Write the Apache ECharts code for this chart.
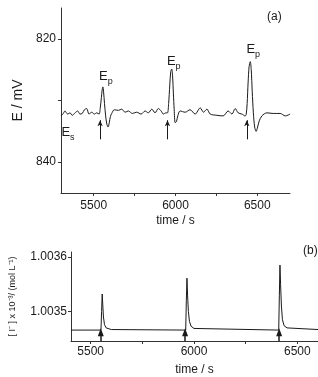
<!DOCTYPE html>
<html>
<head>
<meta charset="utf-8">
<script src="https://cdn.jsdelivr.net/npm/echarts@6/dist/echarts.min.js"></script>
<style>
  html, body { margin: 0; padding: 0; background: #fff; }
  #chart { width: 318px; height: 377px; }
</style>
</head>
<body>
<div id="chart"></div>
<script>
  'use strict'

  // panel (a): potential trace, E / mV
  var topTime = [5300, 5314, 5324, 5341, 5355, 5369, 5386, 5402, 5416, 5430, 5443, 5457, 5471, 5488, 5504, 5518, 5533,
    5540, 5547, 5552, 5556, 5560, 5566, 5573, 5580, 5588, 5595, 5602, 5610, 5626, 5651, 5671, 5692, 5712, 5736,
    5763, 5790, 5814, 5834, 5855, 5875, 5895, 5912, 5926, 5941,
    5951, 5958, 5965, 5971, 5977, 5982, 5987, 5992, 5998, 6006, 6014, 6028, 6059, 6089, 6120, 6151, 6171, 6192,
    6212, 6253, 6291, 6322, 6345, 6365, 6383, 6406, 6426,
    6432, 6438, 6444, 6450, 6457, 6463, 6469, 6476, 6484, 6493, 6502, 6512, 6528, 6559, 6597, 6640, 6671, 6701]
  var topE = [832.5, 832.1, 831.7, 832.2, 832.0, 832.4, 832.0, 831.7, 832.2, 832.1, 831.5, 831.3, 832.2, 831.9, 832.2, 832.0, 832.2,
    831.2, 829.5, 828.2, 827.8, 828.5, 830.5, 832.5, 833.8, 834.3, 833.6, 832.6, 832.1, 831.5, 831.6, 831.4, 831.9, 831.7, 832.1,
    831.9, 832.2, 831.7, 832.0, 831.4, 832.0, 831.3, 831.7, 832.2, 832.0,
    832.0, 830.5, 827.5, 825.3, 824.9, 826.0, 828.8, 831.5, 833.6, 833.4, 832.5, 831.7, 831.9, 831.5, 832.2, 831.2, 831.9, 831.4,
    832.2, 832.4, 832.5, 831.7, 832.2, 831.3, 832.0, 832.2, 832.5,
    832.3, 830.5, 827.0, 824.5, 823.7, 825.0, 828.5, 832.0, 834.3, 835.0, 834.3, 833.3, 832.5, 832.0, 832.1, 832.1, 832.5, 832.2]
  var topPeaks = [[5556, 827.8], [5977, 824.9], [6457, 823.7]]
  var topStart = [5300, 832.5]
  var topArrowTime = [5539, 5951, 6436]
  var topArrowFrom = 836.3
  var topArrowTo = 833.2
  var topXTicks = [5500, 5750, 6000, 6250, 6500]
  var topXLabels = [5500, 6000, 6500]
  var topYTicks = [820, 830, 840]
  var topYLabels = [820, 840]

  // panel (b): iodide concentration
  var botTime = [5405, 5550, 5553, 5556, 5559, 5562, 5567, 5575, 5600, 5960, 5963, 5966, 5969, 5973, 5978, 5986, 6000,
    6410, 6413, 6416, 6419, 6423, 6428, 6436, 6450, 6600]
  var botConc = [1.003466, 1.003466, 1.003500, 1.003532, 1.003510, 1.003490, 1.003476, 1.003470, 1.003467,
    1.003466, 1.003520, 1.003561, 1.003530, 1.003500, 1.003482, 1.003473, 1.003469,
    1.003466, 1.003530, 1.003585, 1.003550, 1.003510, 1.003485, 1.003474, 1.003470, 1.003467]
  var botArrowTime = [5549, 5957, 6412]
  var botArrowFrom = 1.003446
  var botArrowTo = 1.003462
  var botXTicks = [5500, 5750, 6000, 6250, 6500]
  var botXLabels = [5500, 6000, 6500]
  var botYTicks = [1.0035, 1.0036]

  var font = 'Liberation Sans, Arial, sans-serif'
  var ink = '#1a1a1a'

  function axisBase () {
    return {
      type: 'value',
      axisLine: { show: true, lineStyle: { color: '#333', width: 1 } },
      splitLine: { show: false },
      nameTextStyle: { fontFamily: font, fontSize: 12, color: ink },
      axisLabel: { fontFamily: font, fontSize: 12, color: ink, formatter: function (v) { return String(v) } },
      axisTick: { length: 3, lineStyle: { color: '#333' } }
    }
  }

  function arrowLines (times, from, to) {
    return times.map(function (t) {
      return [{ coord: [t, from] }, { coord: [t, to] }]
    })
  }

  var epOffsets = [[3, -12], [2, -9], [3, -14]]
  var epPoints = topPeaks.map(function (p, i) {
    return { coord: p, label: { offset: epOffsets[i] } }
  })
  var epRich = {
    e: { fontFamily: font, fontSize: 13, color: ink, lineHeight: 16, verticalAlign: 'bottom' },
    s: { fontFamily: font, fontSize: 9, color: ink, lineHeight: 12, verticalAlign: 'bottom', padding: [0, 0, -3, 0] }
  }

  var x0 = axisBase()
  x0.gridIndex = 0
  x0.min = 5300
  x0.max = 6700
  x0.name = 'time / s'
  x0.nameLocation = 'middle'
  x0.nameGap = 22
  x0.axisTick.customValues = topXTicks
  x0.axisLabel.customValues = topXLabels
  x0.axisLabel.margin = 7

  var x1 = axisBase()
  x1.gridIndex = 1
  x1.min = 5405
  x1.max = 6600
  x1.name = 'time / s'
  x1.nameLocation = 'middle'
  x1.nameGap = 23
  x1.axisTick.customValues = botXTicks
  x1.axisLabel.customValues = botXLabels
  x1.axisLabel.margin = 5

  var y0 = axisBase()
  y0.gridIndex = 0
  y0.inverse = true
  y0.min = 815
  y0.max = 845
  y0.name = 'E / mV'
  y0.nameLocation = 'middle'
  y0.nameGap = 26
  y0.nameTextStyle.fontSize = 14
  y0.axisTick.customValues = topYTicks
  y0.axisLabel.customValues = topYLabels
  y0.axisLabel.margin = 5

  var y1 = axisBase()
  y1.gridIndex = 1
  y1.min = 1.003446
  y1.max = 1.003609
  y1.name = '[ I\u207B ] x 10\u207B\u00B3/ (mol L\u207B\u00B9)'
  y1.nameLocation = 'middle'
  y1.nameGap = 54
  y1.nameTextStyle.fontSize = 9
  y1.axisTick.customValues = botYTicks
  y1.axisLabel.customValues = botYTicks
  y1.axisLabel.margin = 4
  y1.axisLabel.formatter = function (v) { return v.toFixed(4) }

  var chart = echarts.init(document.getElementById('chart'), null, { renderer: 'canvas' })
  chart.setOption({
    animation: false,
    backgroundColor: '#fff',
    grid: [
      { left: 61, top: 8, right: 28, bottom: 184 },
      { left: 61, top: 252, right: -2, bottom: 35 }
    ],
    xAxis: [x0, x1],
    yAxis: [y0, y1],
    graphic: [
      { type: 'text', left: 267, top: 11, style: { text: '(a)', font: '12px ' + font, fill: ink } },
      { type: 'text', left: 303, top: 245, style: { text: '(b)', font: '12px ' + font, fill: ink } }
    ],
    series: [
      {
        type: 'line',
        xAxisIndex: 0,
        yAxisIndex: 0,
        data: topTime.map(function (t, i) { return [t, topE[i]] }),
        showSymbol: false,
        smooth: 0.3,
        lineStyle: { color: ink, width: 1 },
        markPoint: {
          symbol: 'circle',
          symbolSize: 0,
          silent: true,
          label: {
            show: true,
            position: 'inside',
            formatter: '{e|E}{s|p}',
            rich: epRich
          },
          data: epPoints.concat([{
            coord: topStart,
            label: { offset: [7, 15], formatter: '{e|E}{s|s}' }
          }])
        },
        markLine: {
          silent: true,
          symbol: ['none', 'arrow'],
          symbolSize: [4, 6],
          label: { show: false },
          lineStyle: { color: ink, width: 1, type: 'solid' },
          data: arrowLines(topArrowTime, topArrowFrom, topArrowTo)
        }
      },
      {
        type: 'line',
        xAxisIndex: 1,
        yAxisIndex: 1,
        data: botTime.map(function (t, i) { return [t, botConc[i]] }),
        showSymbol: false,
        lineStyle: { color: ink, width: 1 },
        markLine: {
          silent: true,
          symbol: ['none', 'triangle'],
          symbolSize: [6, 8],
          label: { show: false },
          lineStyle: { color: ink, width: 1.5, type: 'solid' },
          data: arrowLines(botArrowTime, botArrowFrom, botArrowTo)
        }
      }
    ]
  })
</script>
</body>
</html>
